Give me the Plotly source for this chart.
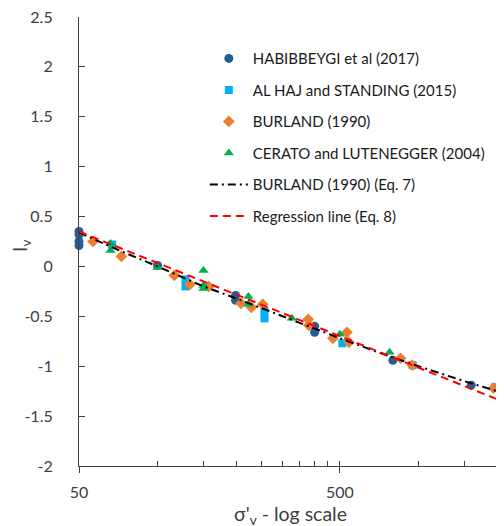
import plotly.graph_objects as go

# ---- data ----
hab_s = [50, 50, 50, 50, 100, 199, 199, 400, 400, 798, 1593]
hab_i = [0.35, 0.32, 0.25, 0.21, 0.01, -0.29, -0.34, -0.60, -0.66, -0.94, -1.19]

alh_s = [67, 128, 128, 257, 257, 511, 950, 1969]
alh_i = [0.22, -0.13, -0.20, -0.45, -0.52, -0.77, -0.99, -1.21]

bur_s = [56.6, 72.7, 116, 133, 157, 209, 229, 253, 378, 380, 470, 532, 542, 854, 947, 1940]
bur_i = [0.25, 0.10, -0.09, -0.18, -0.20, -0.37, -0.41, -0.38, -0.53, -0.59, -0.72, -0.66,
         -0.76, -0.92, -0.99, -1.22]

cer_s = [66, 66, 100, 150, 150, 150, 223, 223, 327, 500, 775]
cer_i = [0.23, 0.16, -0.01, -0.04, -0.19, -0.22, -0.30, -0.38, -0.52, -0.68, -0.86]

eq7_s = [50, 70, 100, 150, 200, 300, 500, 700, 1000, 1500, 2000]
eq7_i = [0.34, 0.17, 0.0, -0.20, -0.32, -0.50, -0.72, -0.86, -1.0, -1.15, -1.25]

reg_s = [50, 2000]
reg_i = [0.35, -1.33]

x_major = [50, 500]
x_major_text = ["50", "500"]
x_minor = [100, 150, 200, 250, 300, 350, 400, 450, 500, 1000, 1500, 2000]
y_ticks = [-2, -1.5, -1, -0.5, 0, 0.5, 1, 1.5, 2, 2.5]
y_tick_text = ["-2", "-1.5", "-1", "-0.5", "0", "0.5", "1", "1.5", "2", "2.5"]

FONT = "Lato"
AX = "#404040"

fig = go.Figure()
fig.add_trace(go.Scatter(x=hab_s, y=hab_i, mode="markers", name="HABIBBEYGI et al (2017)",
                         legendgroup="a", cliponaxis=False,
                         marker=dict(symbol="circle", size=9, color="#255E91", line=dict(width=0))))
fig.add_trace(go.Scatter(x=alh_s, y=alh_i, mode="markers", name="AL HAJ and STANDING (2015)",
                         legendgroup="b", cliponaxis=False,
                         marker=dict(symbol="square", size=8, color="#00B0F0", line=dict(width=0))))
fig.add_trace(go.Scatter(x=bur_s, y=bur_i, mode="markers", name="BURLAND (1990)",
                         legendgroup="c", cliponaxis=False,
                         marker=dict(symbol="diamond", size=9, color="#ED7D31", line=dict(width=0))))
fig.add_trace(go.Scatter(x=cer_s, y=cer_i, mode="markers", name="CERATO and LUTENEGGER (2004)",
                         legendgroup="d", cliponaxis=False,
                         marker=dict(symbol="triangle-up", size=9, color="#00B050", line=dict(width=0))))
fig.add_trace(go.Scatter(x=eq7_s, y=eq7_i, mode="lines", name="BURLAND (1990) (Eq. 7)",
                         legendgroup="e",
                         line=dict(color="black", width=2, dash="8px,4px,2px,4px")))
fig.add_trace(go.Scatter(x=reg_s, y=reg_i, mode="lines", name="Regression line (Eq. 8)",
                         legendgroup="f",
                         line=dict(color="#FF0000", width=2, dash="8px,5px")))

fig.update_layout(
    width=496, height=518,
    margin=dict(l=71, r=7, t=9, b=60),
    paper_bgcolor="white", plot_bgcolor="white",
    font=dict(family=FONT, color=AX, size=16),
    showlegend=True,
    legend=dict(x=0.301, y=0.944, xanchor="left", yanchor="top", itemwidth=38,
                font=dict(family=FONT, size=15, color="#1a1a1a"),
                bgcolor="rgba(0,0,0,0)", tracegroupgap=9, traceorder="grouped"),
    xaxis=dict(type="log", range=[1.69897, 3.30103], showline=True, linecolor=AX, linewidth=1.2,
               showgrid=False, zeroline=False, automargin=False,
               tickmode="array", tickvals=x_major, ticktext=x_major_text,
               ticks="outside", ticklen=6, tickcolor=AX, tickwidth=1.2,
               ticklabelstandoff=6, tickfont=dict(size=16, color=AX),
               minor=dict(tickmode="array", tickvals=x_minor, ticks="inside", ticklen=5,
                          tickcolor=AX, tickwidth=1.2, showgrid=False)),
    yaxis=dict(range=[-2, 2.5], showline=True, linecolor=AX, linewidth=1.2,
               showgrid=False, zeroline=False, automargin=False, ticklabeloverflow="allow",
               tickmode="array", tickvals=y_ticks, ticktext=y_tick_text,
               ticks="inside", ticklen=6, tickcolor=AX, tickwidth=1.2,
               ticklabelstandoff=22, tickfont=dict(size=16, color=AX)),
    annotations=[
        dict(text="I<sub>v</sub>", xref="paper", yref="paper", x=-0.139, y=0.49,
             xanchor="center", yanchor="middle", textangle=-90, showarrow=False,
             font=dict(family=FONT, size=19, color=AX)),
        dict(text="σ'<sub>v</sub> - log scale", xref="paper", yref="paper", x=0.505, y=-0.109,
             xanchor="center", yanchor="middle", showarrow=False,
             font=dict(family=FONT, size=19.5, color=AX)),
    ],
)

fig.write_html("out.html")
